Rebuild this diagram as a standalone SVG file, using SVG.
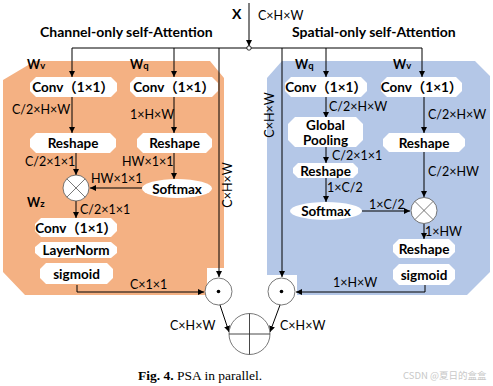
<svg xmlns="http://www.w3.org/2000/svg" width="493" height="386" viewBox="0 0 493 386">
<defs>
<marker id="ar" viewBox="0 0 8 8" refX="8" refY="4" markerWidth="6" markerHeight="6" markerUnits="userSpaceOnUse" orient="auto">
<path d="M0,0 L8,4 L0,8 z" fill="#000"/>
</marker>
<style>
.ln{fill:none;stroke:#000;stroke-width:1;marker-end:url(#ar)}
.pl{fill:none;stroke:#000;stroke-width:1}
.bx{fill:#fff;stroke:none}
.nt{font-family:Lato,"Noto Sans CJK SC",sans-serif;font-weight:bold;font-size:13.5px;fill:#000;text-anchor:middle}
.lb{font-family:Lato,"Noto Sans CJK SC",sans-serif;font-size:12.5px;fill:#000}
.tt{font-family:Lato,sans-serif;font-weight:bold;font-size:14px;fill:#000}
.wl{font-family:Lato,sans-serif;font-weight:bold;font-size:12.5px;fill:#000}
.op{fill:#fff;stroke:#555;stroke-width:0.8}
.cap{font-family:"Liberation Serif",serif;font-size:13.5px;fill:#000}
</style>
</defs>
<rect width="493" height="386" fill="#fff"/>
<g id="panels">
<polygon id="channel-panel" points="35,61 210,61 224,78 224,268 207,268 207,295 25,295 3,272 3,80" fill="#F4B183"/>
<polygon id="spatial-panel" points="282,61 475,61 490,76 490,272 467,295 297,295 297,275 267,275 267,78" fill="#B4C7E7"/>
</g>
<g id="titles">
<text x="232" y="19" class="tt" font-size="16">X</text>
<text x="258" y="20" class="lb">C×H×W</text>
<text x="40" y="37" class="tt">Channel-only self-Attention</text>
<text x="292" y="37" class="tt">Spatial-only self-Attention</text>
</g>
<g id="connectors">
<line x1="249" y1="3" x2="249" y2="46" class="ln"/>
<line x1="72" y1="48" x2="422" y2="48" class="pl"/>
<line x1="72" y1="48" x2="72" y2="77" class="ln"/>
<line x1="174" y1="48" x2="174" y2="77" class="ln"/>
<line x1="219" y1="48" x2="219" y2="277" class="ln"/>
<line x1="72" y1="97" x2="72" y2="133" class="ln"/>
<line x1="174" y1="97" x2="174" y2="133" class="ln"/>
<line x1="76" y1="153" x2="76" y2="175" class="ln"/>
<line x1="174" y1="153" x2="174" y2="179" class="ln"/>
<line x1="142" y1="188" x2="90" y2="188" class="ln"/>
<line x1="76" y1="201" x2="76" y2="218" class="ln"/>
<path d="M77,285 V292 H204" class="ln"/>
<line x1="220" y1="305" x2="229" y2="332" class="ln"/>
<line x1="280" y1="305" x2="270" y2="332" class="ln"/>
<line x1="282" y1="48" x2="282" y2="277" class="ln"/>
<line x1="326" y1="48" x2="326" y2="77" class="ln"/>
<line x1="422" y1="48" x2="422" y2="77" class="ln"/>
<line x1="326" y1="97" x2="326" y2="118" class="ln"/>
<line x1="326" y1="147" x2="326" y2="163" class="ln"/>
<line x1="326" y1="178" x2="326" y2="202" class="ln"/>
<line x1="424" y1="97" x2="424" y2="133" class="ln"/>
<line x1="424" y1="152" x2="424" y2="197" class="ln"/>
<line x1="362" y1="211" x2="410" y2="211" class="ln"/>
<line x1="424" y1="224" x2="424" y2="239" class="ln"/>
<path d="M425,285 V292 H296" class="ln"/>
<circle cx="249" cy="48" r="2.2" fill="#fff" stroke="#000" stroke-width="0.8"/>
</g>
<g id="labels">
<text x="12" y="114" class="lb">C/2×H×W</text>
<text x="130" y="119" class="lb">1×H×W</text>
<text x="25" y="166" class="lb">C/2×1×1</text>
<text x="122" y="166" class="lb">HW×1×1</text>
<text x="91" y="183" class="lb">HW×1×1</text>
<text x="80" y="214" class="lb">C/2×1×1</text>
<text x="130" y="289" class="lb">C×1×1</text>
<text x="232" y="185" class="lb" transform="rotate(-90 232 185)" text-anchor="middle">C×H×W</text>
<text x="274" y="115" class="lb" transform="rotate(-90 274 115)" text-anchor="middle">C×H×W</text>
<text x="329" y="111" class="lb">C/2×H×W</text>
<text x="428" y="119" class="lb">C/2×H×W</text>
<text x="332" y="160" class="lb">C/2×1×1</text>
<text x="327" y="192" class="lb">1×C/2</text>
<text x="428" y="176" class="lb">C/2×HW</text>
<text x="369" y="209" class="lb">1×C/2</text>
<text x="425" y="236" class="lb">1×HW</text>
<text x="333" y="287" class="lb">1×H×W</text>
<text x="170" y="330" class="lb">C×H×W</text>
<text x="280" y="330" class="lb">C×H×W</text>
<text x="27" y="69" class="wl">W<tspan font-size="9.5">v</tspan></text>
<text x="130" y="69" class="wl">W<tspan font-size="9.5">q</tspan></text>
<text x="27" y="207" class="wl">W<tspan font-size="9.5">z</tspan></text>
<text x="295" y="69" class="wl">W<tspan font-size="9.5">q</tspan></text>
<text x="393" y="69" class="wl">W<tspan font-size="9.5">v</tspan></text>
</g>
<g id="c-conv-v">
<polygon class="bx" points="36,77 111,77 117,83 117,91 111,97 36,97 30,91 30,83"/>
<text x="73" y="92" class="nt">Conv（1×1）</text>
</g>
<g id="c-conv-q">
<polygon class="bx" points="136,77 212,77 218,83 218,91 212,97 136,97 130,91 130,83"/>
<text x="174" y="92" class="nt">Conv（1×1）</text>
</g>
<g id="c-reshape-v">
<polygon class="bx" points="36,133 110,133 116,139 116,147 110,153 36,153 30,147 30,139"/>
<text x="73" y="148" class="nt">Reshape</text>
</g>
<g id="c-reshape-q">
<polygon class="bx" points="143,133 206,133 212,139 212,147 206,153 143,153 137,147 137,139"/>
<text x="174.5" y="148" class="nt">Reshape</text>
</g>
<g id="c-softmax">
<ellipse cx="177" cy="188.5" rx="35" ry="9.5" fill="#fff"/>
<text x="177" y="193.5" class="nt">Softmax</text>
</g>
<g id="c-mul">
<circle cx="76" cy="188" r="13" class="op"/>
<path d="M66.8,178.8 L85.2,197.2 M85.2,178.8 L66.8,197.2" stroke="#555" stroke-width="0.8"/>
</g>
<g id="c-conv-z">
<polygon class="bx" points="41,218 111,218 117,224 117,231 111,237 41,237 35,231 35,224"/>
<text x="76" y="232.5" class="nt">Conv（1×1）</text>
</g>
<g id="c-layernorm">
<polygon class="bx" points="41,242 111,242 117,247 117,253 111,258 41,258 35,253 35,247"/>
<text x="76" y="255" class="nt">LayerNorm</text>
</g>
<g id="c-sigmoid">
<polygon class="bx" points="46,263 107,263 113,269 113,278 107,284 46,284 40,278 40,269"/>
<text x="76.5" y="278.5" class="nt">sigmoid</text>
</g>
<g id="s-conv-q">
<polygon class="bx" points="291,77 361,77 367,83 367,91 361,97 291,97 285,91 285,83"/>
<text x="326" y="92" class="nt">Conv（1×1）</text>
</g>
<g id="s-conv-v">
<polygon class="bx" points="387,77 456,77 462,83 462,91 456,97 387,97 381,91 381,83"/>
<text x="421.5" y="92" class="nt">Conv（1×1）</text>
</g>
<g id="s-pool">
<polygon class="bx" points="295,117 356,117 363,124 363,140 356,147 295,147 288,140 288,124"/>
<text x="325.5" y="130" class="nt">Global</text>
<text x="325.5" y="145" class="nt">Pooling</text>
</g>
<g id="s-reshape-q">
<polygon class="bx" points="298,163 353,163 358,168 358,173 353,178 298,178 293,173 293,168"/>
<text x="325.5" y="175.5" class="nt">Reshape</text>
</g>
<g id="s-softmax">
<ellipse cx="326" cy="211" rx="36" ry="9" fill="#fff"/>
<text x="326" y="216" class="nt">Softmax</text>
</g>
<g id="s-reshape-v">
<polygon class="bx" points="389,133 459,133 465,139 465,146 459,152 389,152 383,146 383,139"/>
<text x="424" y="147.5" class="nt">Reshape</text>
</g>
<g id="s-mul">
<circle cx="424" cy="210.5" r="13" class="op"/>
<path d="M414.8,201.3 L433.2,219.7 M433.2,201.3 L414.8,219.7" stroke="#555" stroke-width="0.8"/>
</g>
<g id="s-reshape-z">
<polygon class="bx" points="399,239 449,239 455,245 455,252 449,258 399,258 393,252 393,245"/>
<text x="424" y="253.5" class="nt">Reshape</text>
</g>
<g id="s-sigmoid">
<polygon class="bx" points="399,264 449,264 455,270 455,279 449,285 399,285 393,279 393,270"/>
<text x="424" y="279.5" class="nt">sigmoid</text>
</g>
<g id="dot-left">
<circle cx="218.5" cy="291.5" r="13.5" class="op"/>
<circle cx="218.5" cy="291.5" r="1.8" fill="#000"/>
</g>
<g id="dot-right">
<circle cx="281.5" cy="291.5" r="13.5" class="op"/>
<circle cx="281.5" cy="291.5" r="1.8" fill="#000"/>
</g>
<g id="sum">
<circle cx="249.5" cy="334" r="20.5" class="op"/>
<path d="M249.5,313.5 V354.5 M229,334 H270" stroke="#333" stroke-width="0.9"/>
</g>
<g id="caption">
<text x="138" y="380" class="cap"><tspan font-weight="bold">Fig. 4.</tspan>  PSA in parallel.</text>
<text x="403" y="379" font-family="'Noto Sans CJK SC',sans-serif" font-size="9.5" fill="#c8c8c8">CSDN @夏日的盒盒</text>
</g>
</svg>
